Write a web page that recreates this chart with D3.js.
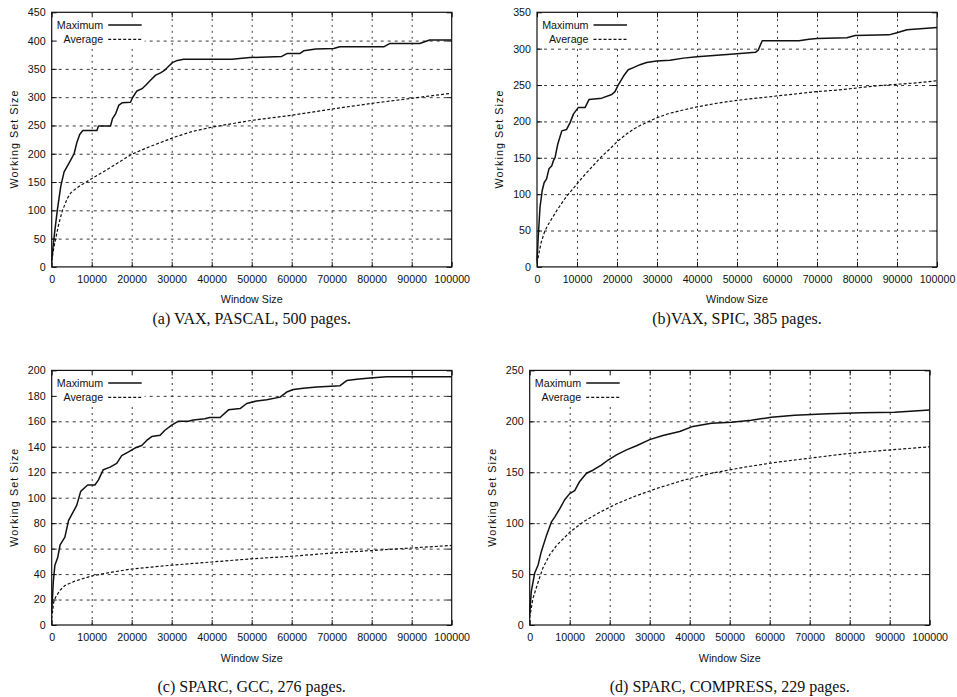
<!DOCTYPE html>
<html>
<head>
<meta charset="utf-8">
<script src="https://cdn.jsdelivr.net/npm/d3@7"></script>
<style>
  body { margin: 0; background: #fff; }
  svg { display: block; }
  .sans { font-family: "Liberation Sans", Arial, Helvetica, sans-serif; }
  .serif { font-family: "Liberation Serif", "Times New Roman", serif; }
</style>
</head>
<body>
<svg width="957" height="697"></svg>
<script>
// x axis (window size) ticks shared by all four plots
const windowTicks = [0, 10000, 20000, 30000, 40000, 50000, 60000, 70000, 80000, 90000, 100000];

const seriesNames = ["Maximum", "Average"];
const captions = [
  "(a) VAX, PASCAL, 500 pages.",
  "(b)VAX, SPIC, 385 pages.",
  "(c) SPARC, GCC, 276 pages.",
  "(d) SPARC, COMPRESS, 229 pages."
];

const ticksA = [0, 50, 100, 150, 200, 250, 300, 350, 400, 450];
const ticksB = [0, 50, 100, 150, 200, 250, 300, 350];
const ticksC = [0, 20, 40, 60, 80, 100, 120, 140, 160, 180, 200];
const ticksD = [0, 50, 100, 150, 200, 250];

// [window size, working set size]
const vaxPascalMax = [[0,10],[400,40],[800,65],[1400,100],[2250,142],[3100,168],[4300,183],[5600,200],[6300,220],[7000,234],[7800,241],
  [11300,241],[11700,249],[14700,249],[15200,262],[16000,271],[16800,286],[17600,290],[19700,291],[20200,299],[21300,311],[22600,315],
  [23500,321],[24700,330],[26000,339],[27200,343],[28300,348],[29300,355],[30200,361],[31400,365],[33000,367],[45000,367],[49600,370],
  [57500,372],[58800,377],[62000,377],[63000,382],[66000,385],[70500,386],[72000,389],[83000,389],[84600,395],[92000,395],[94500,401],[100000,401]];
const vaxPascalAvg = [[0,10],[500,33],[1000,50],[1800,77],[2700,100],[3900,121],[4800,131],[5800,137],[7000,143],[10000,156],[14300,174],
  [20000,199],[24300,212],[31000,230],[35000,239],[40000,247],[50000,259],[60000,268],[70000,279],[80000,289],[90000,298],[100000,307]];

const vaxSpicMax = [[0,8],[300,40],[750,82],[1300,105],[1800,116],[2400,121],[3000,135],[3700,139],[4100,146],[4500,150],[5200,169],
  [6200,187],[7400,189],[8250,198],[9100,210],[10300,219],[12000,219],[13000,230],[16200,232],[18700,237],[19500,241],[20300,250],
  [21600,262],[22800,271],[24100,274],[25750,278],[27400,281],[29900,283],[33250,284],[36600,287],[40000,289],[45000,291],[50000,293],
  [54600,295],[55300,298],[56300,311],[65500,311],[68000,313],[70000,314],[77500,315],[79500,318],[88000,319],[90000,322],[92500,326],
  [95000,327],[100000,329]];
const vaxSpicAvg = [[0,5],[1000,33],[2000,50],[3000,60],[4000,69],[5000,78],[6000,86],[7000,94],[8000,101],[10000,114],[12000,127],
  [14000,139],[16000,151],[18000,161],[20000,172],[22000,181],[24000,189],[26000,195],[28000,200],[30000,205],[33000,211],[36000,215],
  [40000,220],[45000,225],[50000,229],[55000,232],[60000,235],[65000,238],[70000,241],[75000,243],[80000,246],[85000,249],[90000,251],
  [95000,253],[100000,256]];

const sparcGccMax = [[0,10],[400,34],[800,47],[1500,53],[2100,63],[3300,69],[4200,82],[5400,89],[6250,94],[7250,105],[8300,108],
  [9000,110],[10800,110],[11700,114],[12900,122],[14600,124],[16250,127],[17500,133],[19200,136],[20800,139],[22500,141],[23750,145],
  [25000,148],[27100,149],[28300,153],[30000,157],[31600,160],[34200,160],[35400,161],[38300,162],[39500,163],[42100,163],[44200,169],
  [47100,170],[48750,174],[51250,176],[53750,177],[57100,179],[58750,183],[60400,185],[62900,186],[66250,187],[72100,188],[73750,192],
  [76250,193],[79600,194],[83750,195],[100000,195]];
const sparcGccAvg = [[0,5],[500,18],[1000,22],[2000,27],[3300,31],[5800,34.5],[10000,38.5],[15000,41.5],[20000,44],[25000,45.5],
  [30000,47],[40000,49.5],[50000,52],[60000,54],[70000,56.5],[80000,58.5],[90000,60.5],[100000,62.5]];

const sparcCompressMax = [[0,10],[400,33],[1250,51],[2100,59],[2900,72],[4200,88],[5400,101],[6250,106],[7500,114],[8750,123],
  [10000,129],[11250,132],[12500,141],[14200,149],[15800,152],[17900,157],[19600,162],[21700,167],[24200,172],[26700,176],[30000,182],
  [33300,186],[35400,188],[37500,190],[40800,195],[45400,198],[50400,199],[55400,201],[60400,204],[66250,206],[74600,207.5],
  [83000,208.5],[91250,209],[100000,211]];
const sparcCompressAvg = [[0,7],[800,26],[2100,42],[3300,56],[5000,69],[6700,78],[10000,91],[13300,101],[16700,109],[21700,119],
  [26700,127],[31700,134],[38300,142],[45400,149],[53750,155],[62100,160],[70400,164],[78750,168],[87100,171],[100000,175]];

const W = 400, H = 254.6;

const panels = [
  { left: 51.7, top: 12.3, ticks: ticksA, max: vaxPascalMax, avg: vaxPascalAvg, caption: captions[0], capDy: 57.3 },
  { left: 537, top: 12.3, ticks: ticksB, max: vaxSpicMax, avg: vaxSpicAvg, caption: captions[1], capDy: 57.3 },
  { left: 51.7, top: 370.4, ticks: ticksC, max: sparcGccMax, avg: sparcGccAvg, caption: captions[2], capDy: 67 },
  { left: 529.7, top: 370.4, ticks: ticksD, max: sparcCompressMax, avg: sparcCompressAvg, caption: captions[3], capDy: 67 }
];

const svg = d3.select("svg");

panels.forEach(p => {
  const yMax = p.ticks[p.ticks.length - 1];
  const x = d3.scaleLinear().domain([0, 100000]).range([0, W]);
  const y = d3.scaleLinear().domain([0, yMax]).range([H, 0]);

  const g = svg.append("g").attr("transform", `translate(${p.left},${p.top})`);

  // grid
  const gx = g.append("g").attr("transform", `translate(0,${H})`)
    .call(d3.axisBottom(x).tickValues(windowTicks.slice(1, -1)).tickSize(-H).tickFormat(""));
  gx.select(".domain").remove();
  gx.selectAll("line").attr("stroke", "#222").attr("stroke-width", 0.9).attr("stroke-dasharray", "2,4");

  const gy = g.append("g")
    .call(d3.axisLeft(y).tickValues(p.ticks.slice(1, -1)).tickSize(-W).tickFormat(""));
  gy.select(".domain").remove();
  gy.selectAll("line").attr("stroke", "#222").attr("stroke-width", 0.9).attr("stroke-dasharray", "3,4");

  // key background
  g.append("rect").attr("x", 1).attr("y", 1).attr("width", 92).attr("height", 34).attr("fill", "#fff");

  // curves
  const line = d3.line().x(d => x(d[0])).y(d => y(d[1]));
  g.append("path").datum(p.avg).attr("d", line)
    .attr("fill", "none").attr("stroke", "#111").attr("stroke-width", 1.2).attr("stroke-dasharray", "3,2");
  g.append("path").datum(p.max).attr("d", line)
    .attr("fill", "none").attr("stroke", "#111").attr("stroke-width", 1.5).attr("stroke-linejoin", "round");

  // axes with inward ticks, mirrored
  const bottom = g.append("g").attr("transform", `translate(0,${H})`)
    .call(d3.axisBottom(x).tickValues(windowTicks).tickSize(-5).tickPadding(8.7).tickFormat(d3.format("d")));
  const left = g.append("g")
    .call(d3.axisLeft(y).tickValues(p.ticks).tickSize(-5).tickPadding(6).tickFormat(d3.format("d")));
  const top = g.append("g")
    .call(d3.axisTop(x).tickValues(windowTicks).tickSize(-5).tickFormat(""));
  const right = g.append("g").attr("transform", `translate(${W},0)`)
    .call(d3.axisRight(y).tickValues(p.ticks).tickSize(-5).tickFormat(""));
  [bottom, left, top, right].forEach(a => {
    a.select(".domain").remove();
    a.selectAll("line").attr("stroke", "#111").attr("stroke-width", 1);
    a.selectAll("text").attr("class", "sans").attr("font-family", null)
      .style("font-size", "10.7px").attr("fill", "#111");
  });

  g.append("rect").attr("width", W).attr("height", H)
    .attr("fill", "none").attr("stroke", "#111").attr("stroke-width", 1.2);

  // key
  const key = g.append("g").attr("class", "sans").style("font-size", "10.7px");
  seriesNames.forEach((name, i) => {
    const ky = 12.7 + i * 14.3;
    key.append("text").attr("x", 51.5).attr("y", ky + 3.8).attr("text-anchor", "end")
      .attr("fill", "#111").text(name);
    key.append("line").attr("x1", 56.5).attr("x2", 90).attr("y1", ky).attr("y2", ky)
      .attr("stroke", "#111").attr("stroke-width", i ? 1.2 : 1.5)
      .attr("stroke-dasharray", i ? "3,2" : null);
  });

  // axis titles
  g.append("text").attr("class", "sans").style("font-size", "10.7px").attr("fill", "#111")
    .attr("x", W / 2).attr("y", H + 36.6).attr("text-anchor", "middle").text("Window Size");
  g.append("text").attr("class", "sans").style("font-size", "10.7px").attr("fill", "#111")
    .attr("transform", `translate(-37.5,${H / 2}) rotate(-90)`).attr("dy", "0.35em")
    .attr("text-anchor", "middle").attr("textLength", 98).attr("lengthAdjust", "spacing")
    .text("Working Set Size");

  // caption
  g.append("text").attr("class", "serif").style("font-size", "16px").attr("fill", "#111")
    .attr("x", W / 2).attr("y", H + p.capDy).attr("text-anchor", "middle").text(p.caption);
});
</script>
</body>
</html>
